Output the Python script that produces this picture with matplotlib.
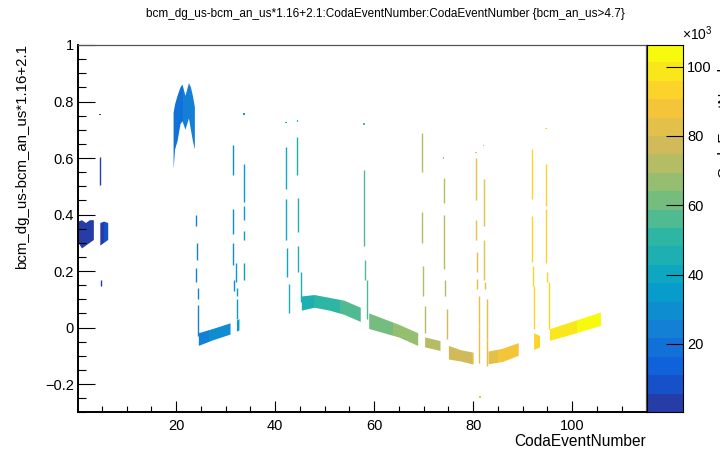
import numpy as np
import matplotlib
matplotlib.use('Agg')
import matplotlib.pyplot as plt
from matplotlib.colors import ListedColormap, BoundaryNorm, LinearSegmentedColormap
from matplotlib.patches import Polygon
from matplotlib.ticker import MultipleLocator, FuncFormatter

plt.rcParams['font.family'] = ['Liberation Sans', 'DejaVu Sans']
plt.rcParams['mathtext.fontset'] = 'custom'
plt.rcParams['mathtext.rm'] = 'Liberation Sans'

# x in units of 10^3 events; each band is a list of (x, y_low, y_high)
band_a = [(0.3, 0.30, 0.375), (1.0, 0.28, 0.38), (1.8, 0.29, 0.37), (2.6, 0.30, 0.38), (3.4, 0.31, 0.38)]
band_b = [(4.7, 0.29, 0.37), (5.5, 0.30, 0.375), (6.3, 0.31, 0.37)]
band_c = [(19.5, 0.56, 0.76), (19.8, 0.63, 0.79), (20.3, 0.66, 0.82), (20.9, 0.72, 0.85),
          (21.3, 0.73, 0.86), (21.9, 0.70, 0.82), (22.6, 0.74, 0.865), (23.0, 0.70, 0.85),
          (23.4, 0.66, 0.82), (23.8, 0.63, 0.78)]
band_e = [(24.6, -0.065, -0.02), (27.5, -0.045, -0.005), (31.0, -0.025, 0.015)]
band_f = [(32.3, -0.015, 0.025), (32.8, -0.01, 0.03)]
band_g = [(45.4, 0.06, 0.11), (48.0, 0.07, 0.115), (51.0, 0.06, 0.105), (54.0, 0.045, 0.095), (57.3, 0.02, 0.07)]
band_h = [(59.0, -0.005, 0.05), (62.0, -0.02, 0.03), (65.0, -0.035, 0.01), (68.9, -0.065, -0.02)]
band_i = [(70.3, -0.07, -0.035), (73.4, -0.083, -0.048)]
band_j = [(75.1, -0.113, -0.065), (77.5, -0.12, -0.08), (80.1, -0.131, -0.089)]
band_k = [(83.1, -0.13, -0.085), (86.0, -0.122, -0.075), (89.2, -0.10, -0.055)]
band_m = [(92.3, -0.08, -0.02), (93.5, -0.07, -0.03)]
band_l = [(95.5, -0.047, -0.006), (100.0, -0.025, 0.02), (105.8, 0.006, 0.053)]

# vertical streaks (beam trips)
spike_x = [4.6, 4.75, 24.1, 24.2, 24.0, 24.4, 24.5,
           31.4, 31.5, 31.6, 31.7, 32.2, 32.3, 32.4, 33.7, 33.7, 33.8, 33.8,
           42.2, 42.3, 42.4, 42.9, 44.5, 44.6, 44.7, 45.2,
           58.0, 58.1, 58.5,
           69.6, 69.7, 69.8, 70.2,
           74.1, 74.2, 74.3, 74.8,
           80.5, 80.6, 80.7, 80.8, 81.1, 81.2,
           82.1, 82.2, 82.3, 82.7, 82.8,
           91.8, 91.9, 92.0, 92.3,
           94.7, 94.8, 94.9, 95.4]
spike_lo = [0.503, 0.148, 0.36, 0.24, 0.16, 0.10, -0.03,
            0.54, 0.33, 0.22, 0.13, 0.16, 0.11, 0.03, 0.445, 0.38, 0.31, 0.17,
            0.49, 0.31, 0.18, 0.053, 0.54, 0.337, 0.195, 0.09,
            0.29, 0.17, 0.03,
            0.55, 0.30, 0.112, -0.02,
            0.44, 0.206, 0.11, -0.04,
            0.45, 0.31, 0.195, 0.136, 0.006, -0.125,
            0.36, 0.17, 0.136, -0.042, -0.136,
            0.455, 0.231, 0.148, -0.006,
            0.43, 0.23, 0.16, -0.006]
spike_hi = [0.604, 0.169, 0.40, 0.30, 0.21, 0.14, 0.08,
            0.645, 0.42, 0.30, 0.17, 0.23, 0.14, 0.10, 0.58, 0.43, 0.34, 0.23,
            0.64, 0.455, 0.28, 0.153, 0.675, 0.46, 0.29, 0.195,
            0.556, 0.24, 0.17,
            0.69, 0.41, 0.219, 0.077,
            0.53, 0.40, 0.17, 0.065,
            0.60, 0.38, 0.266, 0.171, 0.112, 0.006,
            0.526, 0.31, 0.16, 0.10, -0.042,
            0.633, 0.396, 0.219, 0.148,
            0.58, 0.42, 0.195, 0.16]

dot_x = [4.6, 33.7, 42.2, 44.5, 57.9, 74.0, 80.5, 82.1, 81.4, 94.7]
dot_y = [0.754, 0.757, 0.726, 0.73, 0.72, 0.60, 0.62, 0.644, -0.247, 0.704]

# ROOT kBird palette, 20 contour levels
bird_r = [0.2082, 0.0592, 0.0780, 0.0232, 0.1802, 0.5301, 0.8186, 0.9956, 0.9764]
bird_g = [0.1664, 0.3599, 0.5041, 0.6419, 0.7178, 0.7492, 0.7328, 0.7862, 0.9832]
bird_b = [0.5293, 0.8684, 0.8385, 0.7914, 0.6425, 0.4662, 0.3499, 0.1968, 0.0539]
bird = LinearSegmentedColormap.from_list('bird', list(zip(np.linspace(0, 1, 9), zip(bird_r, bird_g, bird_b))))
cmap = ListedColormap([bird((i + 0.99) / 20) for i in range(20)])
zmin, zmax = 0.3, 106.2
levels = np.linspace(zmin, zmax, 21)
norm = BoundaryNorm(levels, cmap.N)
mids = (levels[:-1] + levels[1:]) / 2

xmin, xmax = 0.2, 114.9
ymin, ymax = -0.3, 1.0

fig = plt.figure(figsize=(7.2, 4.51), dpi=100)
bot = 1 - 412.3 / 451
hgt = 367.3 / 451
ax = fig.add_axes([78 / 720, bot, 568 / 720, hgt])
cax = fig.add_axes([647 / 720, bot, 36 / 720, hgt])

for band in [band_a, band_b, band_c, band_e, band_f, band_g, band_h, band_i, band_j, band_k, band_m, band_l]:
    xs, lo, hi = zip(*band)
    verts = list(zip(xs, hi)) + list(zip(xs[::-1], lo[::-1]))
    patch = Polygon(verts, closed=True, facecolor='none', edgecolor='none')
    ax.add_patch(patch)
    im = ax.imshow(mids[None, :], extent=(levels[0], levels[-1], ymin, ymax), cmap=cmap, norm=norm,
                   aspect='auto', interpolation='nearest', origin='lower')
    im.set_clip_path(patch)

ax.vlines(spike_x, spike_lo, spike_hi, colors=cmap(norm(np.array(spike_x))), linewidth=1.0)
ax.scatter(dot_x, dot_y, c=dot_x, cmap=cmap, norm=norm, s=1.5, marker='s', linewidths=0)

ax.set_xlim(xmin, xmax)
ax.set_ylim(ymin, ymax)
ax.xaxis.set_major_locator(MultipleLocator(20))
ax.xaxis.set_minor_locator(MultipleLocator(5))
ax.yaxis.set_major_locator(MultipleLocator(0.2))
ax.yaxis.set_minor_locator(MultipleLocator(0.05))
fmt = FuncFormatter(lambda v, p: ('%g' % round(v, 3)).replace('-', '\u2212'))
ax.xaxis.set_major_formatter(fmt)
ax.yaxis.set_major_formatter(fmt)
ax.tick_params(axis='x', which='major', direction='in', length=7.9, width=0.8, labelsize=10.5, pad=5)
ax.tick_params(axis='x', which='minor', direction='in', length=4, width=0.8)
ax.tick_params(axis='y', which='major', direction='in', length=12.2, width=0.8, labelsize=10.5, pad=3)
ax.tick_params(axis='y', which='minor', direction='in', length=6.1, width=0.8)
for s in ['left', 'bottom']:
    ax.spines[s].set_linewidth(1.4)
for s in ['top', 'right']:
    ax.spines[s].set_linewidth(0.9)
    ax.spines[s].set_color('#555555')

cax.imshow(mids[:, None], extent=(0, 1, levels[0], levels[-1]), cmap=cmap, norm=norm,
           aspect='auto', interpolation='nearest', origin='lower')
cax.set_xticks([])
cax.set_yticks([20, 40, 60, 80, 100])
cax.yaxis.tick_right()
cax.tick_params(axis='y', direction='in', length=12.5, width=0.8, labelsize=10.5, pad=3)
for s in cax.spines.values():
    s.set_linewidth(0.8)

fig.text(385 / 720, 1 - 14 / 451, 'bcm_dg_us-bcm_an_us*1.16+2.1:CodaEventNumber:CodaEventNumber {bcm_an_us>4.7}',
         ha='center', va='center', fontsize=8.5)
fig.text(21.7 / 720, 1 - 44 / 451, 'bcm_dg_us-bcm_an_us*1.16+2.1', rotation=90, ha='center', va='top', fontsize=10.8)
fig.text(646 / 720, 1 - 441.7 / 451, 'CodaEventNumber', ha='right', va='center', fontsize=11.2)
fig.text(682 / 720, 1 - 43 / 451, r'$\times10^{3}$', ha='left', va='bottom', fontsize=10)
fig.text(717.5 / 720, 1 - 48 / 451, 'CodaEventNumber', rotation=90, ha='left', va='top', fontsize=11)

fig.savefig('out.png', dpi=100)
